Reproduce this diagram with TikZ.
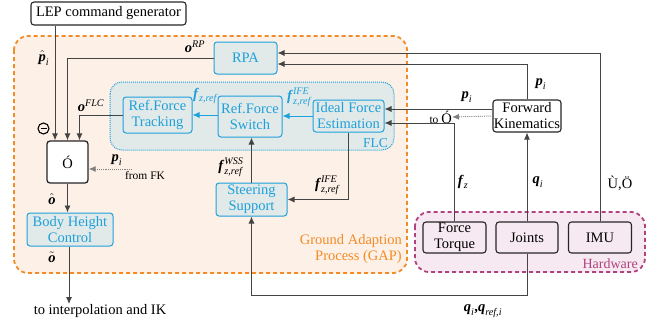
\documentclass[tikz,border=0pt]{standalone}
\usepackage{amsmath}
\usepackage{fontspec}
\setmainfont{LiberationSerif}[Extension=.ttf, UprightFont=*-Regular, BoldFont=*-Bold, ItalicFont=*-Italic, BoldItalicFont=*-BoldItalic]
\usetikzlibrary{arrows.meta}
\definecolor{gapor}{HTML}{F28C28}
\definecolor{gapfill}{HTML}{FDF0E7}
\definecolor{flcblue}{HTML}{1DA1DB}
\definecolor{boxfill}{HTML}{E2E9E9}
\definecolor{hwmag}{HTML}{B0437F}
\definecolor{hwfill}{HTML}{F7E9F1}
\definecolor{conncol}{HTML}{444444}
\newcommand{\bv}[1]{\textbf{\textit{#1}}}
\newcommand{\ti}[1]{\textit{#1}}
\tikzset{
  bbox/.style={draw=flcblue, line width=1pt, rounded corners=3pt, fill=boxfill, text=flcblue, align=center, inner sep=1pt},
  kbox/.style={draw=black!85, line width=1.1pt, rounded corners=3pt, fill=white, align=center, inner sep=1pt},
  hbox/.style={draw=black!85, line width=1.1pt, rounded corners=3pt, align=center, inner sep=1pt},
  conn/.style={draw=conncol, line width=0.9pt, -{Latex[length=7pt,width=6pt]}},
  bconn/.style={draw=flcblue, line width=0.9pt, -{Latex[length=7pt,width=6pt]}},
  dconn/.style={draw=black!50, line width=0.9pt, densely dotted, -{Latex[length=7pt,width=6pt]}},
  lab/.style={inner sep=0pt},
  smalltxt/.style={font=\fontsize{11.5}{12.5}\selectfont}
}
\begin{document}
\begin{tikzpicture}[x=1pt,y=-1pt,font=\fontsize{14.5}{16}\selectfont]
\useasboundingbox (0,0) rectangle (665,324);
% regions
\draw[gapor, fill=gapfill, line width=1.8pt, dash pattern=on 4pt off 3pt, rounded corners=14pt] (14,36) rectangle (407,273);
\node[lab, text=gapor, align=right, anchor=south east] (gaplab) at (402,264) {Ground Adaption\\Process (GAP)};
\draw[flcblue, fill=boxfill, line width=1pt, densely dotted, rounded corners=12pt] (110,82) rectangle (394,150);
\node[lab, text=flcblue, anchor=south east, font=\fontsize{13.5}{14}\selectfont] (flclab) at (388,148) {FLC};
\draw[hwmag, fill=hwfill, line width=1.8pt, dash pattern=on 4pt off 3pt, rounded corners=14pt] (415,212) rectangle (645,272);
\node[lab, text=hwmag, anchor=south east, font=\fontsize{14}{15}\selectfont] (hwlab) at (638,269) {Hardware};
% nodes
\node[kbox, minimum width=155pt, minimum height=23pt] (lep) at (108.5,13.5) {LEP command generator};
\node[bbox, minimum width=63pt, minimum height=32pt] (rpa) at (245.5,58) {RPA};
\node[bbox, minimum width=69pt, minimum height=36pt] (trk) at (157.5,115) {Ref.Force\\Tracking};
\node[bbox, minimum width=64pt, minimum height=41pt] (sw) at (250,116.5) {Ref.Force\\Switch};
\node[bbox, minimum width=71pt, minimum height=32pt] (ife) at (348.5,116) {Ideal Force\\Estimation};
\node[kbox, minimum width=68pt, minimum height=32pt] (fk) at (527,116) {Forward\\Kinematics};
\node[kbox, line width=1.3pt, minimum width=41pt, minimum height=42pt] (sig) at (67.5,162) {Ó};
\node[bbox, minimum width=86pt, minimum height=33pt] (bhc) at (70,229.5) {Body Height\\Control};
\node[bbox, minimum width=71pt, minimum height=33pt] (st) at (251.5,199.5) {Steering\\Support};
\node[hbox, minimum width=63pt, minimum height=31pt] (ft) at (454.5,237.5) {Force\\Torque};
\node[hbox, minimum width=62pt, minimum height=31pt] (jt) at (527,237.5) {Joints};
\node[hbox, minimum width=63pt, minimum height=31pt] (imu) at (600,237.5) {IMU};
\node[lab, anchor=north] (out) at (100,304) {to interpolation and IK};
\node[lab, anchor=east] (toS) at (452,117) {{\fontsize{11.5}{12}\selectfont to }Ó};
\coordinate (fromfk) at (132,169);
% connectors left
\draw[conn] ([xshift=-12.5pt]sig.north |- lep.south) -- ([xshift=-12.5pt]sig.north);
\draw[conn] (rpa.west) -| (sig.north);
\draw[conn] (trk.west) -| ([xshift=12pt]sig.north);
\draw[bconn] (sw.west |- trk.east) -- (trk.east);
\draw[bconn] (ife.west) -- (ife.west -| sw.east);
\draw[conn] (st.north) -- (st.north |- sw.south);
\draw[conn] ([xshift=-0.5pt]ife.south) |- (st.east);
\draw[conn] (sig.south) -- (sig.south |- bhc.north);
\draw[conn] ([xshift=-1pt]bhc.south) -- ([xshift=-1pt]bhc.south |- out.north);
\draw[dconn] (fromfk) -- (fromfk -| sig.east);
% connectors right
\draw[conn] (imu.north) |- ([yshift=5pt]rpa.east);
\draw[conn] (fk.north) |- ([yshift=-6pt]rpa.east);
\draw[conn] ([yshift=7pt]fk.west) -- ([yshift=7pt]fk.west -| ife.east);
\draw[dconn] (fk.west) -- (toS.east);
\draw[conn] (ft.north) |- ([yshift=-7pt]ife.east);
\draw[conn] (jt.north) -- (fk.south);
\draw[conn] (jt.south) -- ++(0,42) -| (st.south);
% labels
\node[lab] (lphat) at (44,58) {$\hat{\bv{p}}_{\ti{i}}$};
\node[draw, circle, line width=1.1pt, inner sep=0pt, minimum size=11pt] (minus) at (43.5,128.5) {};
\draw[line width=1.1pt] ([xshift=-3pt]minus.center) -- ([xshift=3pt]minus.center);
\node[lab] (lorp) at (195,47) {$\bv{o}^{\ti{RP}}$};
\node[lab] (lofl) at (91,106) {$\bv{o}^{\ti{FLC}}$};
\node[lab, text=flcblue] (lfz1) at (205,96) {$\bv{f}_{\ti{z,ref}}$};
\node[lab, text=flcblue] (lfz2) at (299,97) {$\bv{f}^{\ti{IFE}}_{\ti{z,ref}}$};
\node[lab] (lfws) at (231,167) {$\bv{f}^{\ti{WSS}}_{\ti{z,ref}}$};
\node[lab] (lfie) at (327,185) {$\bv{f}^{\ti{IFE}}_{\ti{z,ref}}$};
\node[lab] (lohat) at (52,199) {$\hat{\bv{o}}$};
\node[lab] (lotil) at (52,257) {$\tilde{\bv{o}}$};
\node[lab] (lpi1) at (117,160) {$\bv{p}_{\ti{i}}$};
\node[lab, smalltxt] (lfk) at (145,176) {from FK};
\node[lab] (lpi2) at (541,84) {$\bv{p}_{\ti{i}}$};
\node[lab] (lpi3) at (467,97) {$\bv{p}_{\ti{i}}$};
\node[lab] (lfz) at (463,182) {$\bv{f}_{\ti{z}}$};
\node[lab] (lqi) at (538,182) {$\bv{q}_{\ti{i}}$};
\node[lab] (limu) at (620,183) {Ù,Ö};
\node[lab] (lqq) at (483,311) {$\bv{q}_{\ti{i}}\textbf{,}\bv{q}_{\ti{ref,i}}$};
\end{tikzpicture}
\end{document}
